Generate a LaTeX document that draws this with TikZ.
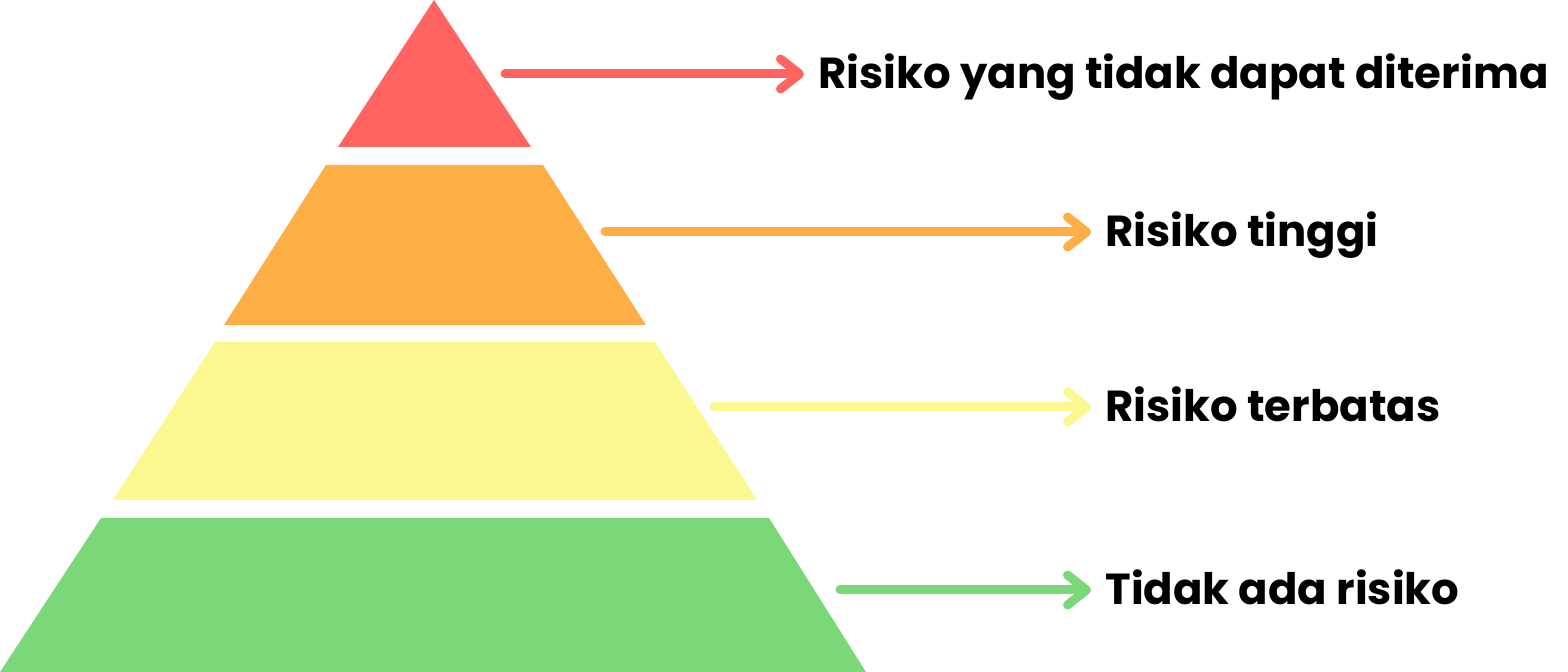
\documentclass[tikz,border=0pt]{standalone}
\usepackage{fontspec}
\setmainfont{Poppins}[UprightFont=* Bold]
\usetikzlibrary{arrows.meta}
\definecolor{cred}{HTML}{FF6461}
\definecolor{corange}{HTML}{FDAE45}
\definecolor{cyellow}{HTML}{FAF88F}
\definecolor{cgreen}{HTML}{7BD878}
\begin{document}
\begin{tikzpicture}[x=0.5pt,y=-0.5pt,
  conn/.style={line width=4.5pt, line cap=round, -{Straight Barb[length=9.5pt,width=15pt,round]}, shorten >=7pt},
  lbl/.style={anchor=base west, inner sep=0pt, font=\fontsize{21.7}{26}\selectfont, text=black}]
\useasboundingbox (0,0) rectangle (1568,672);
% pyramid layers
\fill[cred] (434,0) -- (531,147) -- (338,147) -- cycle;
\fill[corange] (326,165) -- (543,165) -- (646,325) -- (224,325) -- cycle;
\fill[cyellow] (215,342) -- (655,342) -- (757,500) -- (113,500) -- cycle;
\fill[cgreen] (101,518) -- (769,518) -- (866,672) -- (0,672) -- cycle;
% labels
\node[lbl] (t1) at (818,89) {Risiko yang tidak dapat diterima};
\node[lbl] (t2) at (1105,247) {Risiko tinggi};
\node[lbl] (t3) at (1105,422) {Risiko terbatas};
\node[lbl] (t4) at (1105,605) {Tidak ada risiko};
% arrow starts
\coordinate (s1) at (505,74);
\coordinate (s2) at (605,232);
\coordinate (s3) at (714,407);
\coordinate (s4) at (840,590);
\draw[conn,cred] (s1) -- (s1 -| t1.west);
\draw[conn,corange] (s2) -- (s2 -| t2.west);
\draw[conn,cyellow] (s3) -- (s3 -| t3.west);
\draw[conn,cgreen] (s4) -- (s4 -| t4.west);
\end{tikzpicture}
\end{document}
